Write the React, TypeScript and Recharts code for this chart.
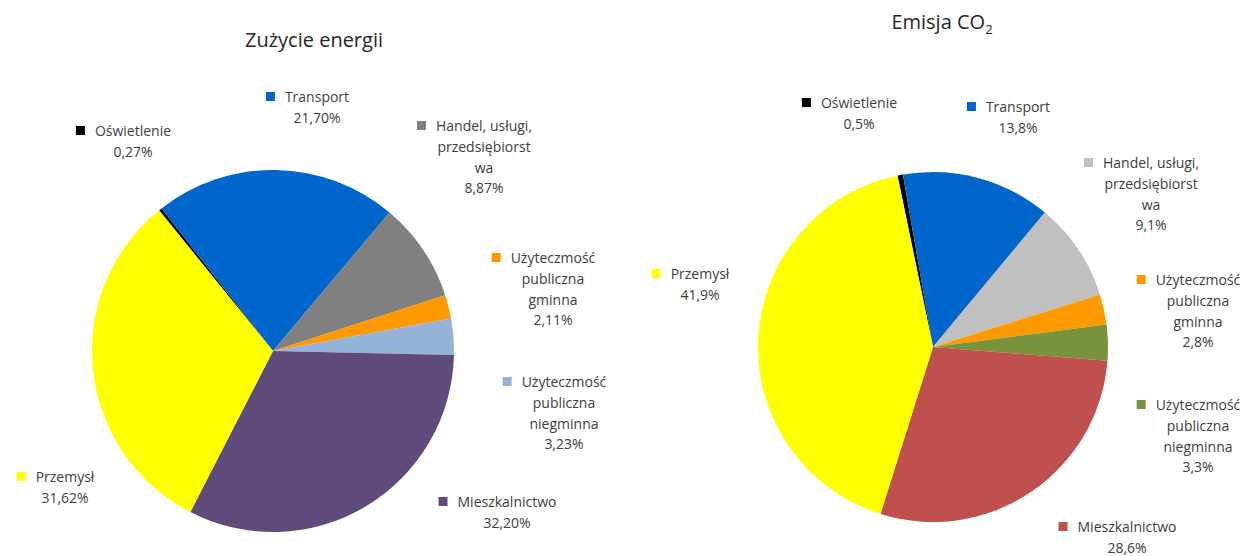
import { PieChart, Pie, Cell } from "recharts";

const categories = [
  "Oświetlenie",
  "Transport",
  "Handel, usługi,\nprzedsiębiorst\nwa",
  "Użyteczmość\npubliczna\ngminna",
  "Użyteczmość\npubliczna\nniegminna",
  "Mieszkalnictwo",
  "Przemysł",
];

const energyValues = [0.27, 21.7, 8.87, 2.11, 3.23, 32.2, 31.62];
const co2Values = [0.5, 13.8, 9.1, 2.8, 3.3, 28.6, 41.9];

const energyColors = ["#000000", "#0066CC", "#808080", "#FF9900", "#95B3D7", "#604A7B", "#FFFF00"];
const co2Colors = ["#000000", "#0066CC", "#C0C0C0", "#FF9900", "#77933C", "#C0504D", "#FFFF00"];

// label anchors: centre of text block / first baseline, relative to pie centre
const energyLabelPos = [
  [-140, -215],
  [44, -249],
  [211, -220],
  [280, -88],
  [291, 36],
  [234, 156],
  [-208, 131],
];
const co2LabelPos = [
  [-74, -239],
  [85, -235],
  [218, -179],
  [265, -62],
  [265, 63],
  [194, 185],
  [-233, -68],
];

const W = 1246;
const H = 556;
const FONT = '"Open Sans", "Noto Sans", sans-serif';
const FS = 14;
const LINE = 20.8;
const TEXT = "#404040";

const energyData = categories.map((name, i) => ({ name, value: energyValues[i] }));
const co2Data = categories.map((name, i) => ({ name, value: co2Values[i] }));

let ctx: CanvasRenderingContext2D | null = null;
const measure = (s: string) => {
  if (!ctx) {
    ctx = document.createElement("canvas").getContext("2d");
  }
  if (!ctx) return s.length * 7;
  ctx.font = `${FS}px ${FONT}`;
  return ctx.measureText(s).width;
};

const makeLabel =
  (pos: number[][], colors: string[], digits: number) => (props: any) => {
    const { cx, cy, index, value, name } = props;
    const [dx, dy] = pos[index];
    const x = cx + dx;
    const y = cy + dy;
    const lines = String(name).split("\n");
    lines.push(value.toFixed(digits).replace(".", ",") + "%");
    const w1 = measure(lines[0]);
    return (
      <g key={`lbl-${index}`}>
        <rect x={x - w1 / 2 - 19} y={y - 10} width={9} height={9} fill={colors[index]} />
        <text x={x} y={y} textAnchor="middle" fontFamily={FONT} fontSize={FS} fill={TEXT}>
          {lines.map((l, i) => (
            <tspan key={i} x={x} dy={i === 0 ? 0 : LINE}>
              {l}
            </tspan>
          ))}
        </text>
      </g>
    );
  };

export default function App() {
  return (
    <div style={{ position: "absolute", left: 0, top: 0, width: W, height: H, background: "#fff" }}>
      <PieChart width={W} height={H} margin={{ top: 0, right: 0, bottom: 0, left: 0 }}>
        <Pie
          data={energyData}
          dataKey="value"
          nameKey="name"
          cx={273}
          cy={351}
          outerRadius={181}
          startAngle={129}
          endAngle={-231}
          stroke="none"
          labelLine={false}
          label={makeLabel(energyLabelPos, energyColors, 2)}
          isAnimationActive={false}
        >
          {energyData.map((d, i) => (
            <Cell key={d.name} fill={energyColors[i]} />
          ))}
        </Pie>
        <Pie
          data={co2Data}
          dataKey="value"
          nameKey="name"
          cx={933}
          cy={347}
          outerRadius={175}
          startAngle={101.7}
          endAngle={-258.3}
          stroke="none"
          labelLine={false}
          label={makeLabel(co2LabelPos, co2Colors, 1)}
          isAnimationActive={false}
        >
          {co2Data.map((d, i) => (
            <Cell key={d.name} fill={co2Colors[i]} />
          ))}
        </Pie>
      </PieChart>
      <svg width={W} height={H} style={{ position: "absolute", left: 0, top: 0, pointerEvents: "none" }}>
        <text x={314} y={47} textAnchor="middle" fontFamily={FONT} fontSize={20} fill="#262626">
          Zużycie energii
        </text>
        <text x={942} y={29} textAnchor="middle" fontFamily={FONT} fontSize={20} fill="#262626">
          Emisja CO
          <tspan fontSize={13} dy={5}>
            2
          </tspan>
        </text>
      </svg>
    </div>
  );
}
